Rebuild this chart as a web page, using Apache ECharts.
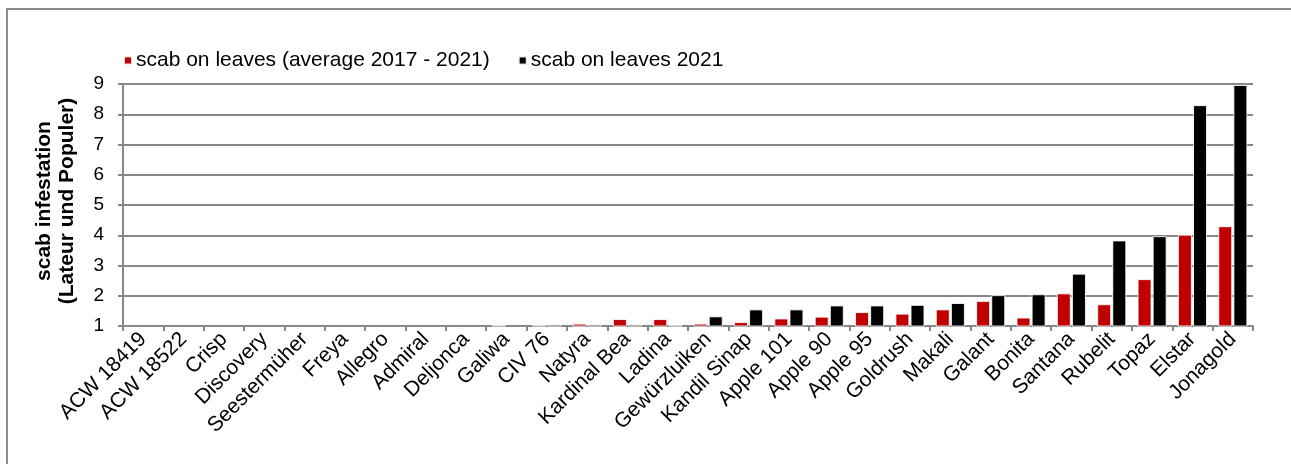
<!DOCTYPE html>
<html>
<head>
<meta charset="utf-8">
<script src="https://cdn.jsdelivr.net/npm/echarts@6/dist/echarts.min.js"></script>
<style>
  html, body { margin: 0; padding: 0; background: #fff; }
  #chart { width: 1291px; height: 464px; }
</style>
</head>
<body>
<div id="chart"></div>
<script>
// Apple varieties, sorted by scab infestation in 2021
const varieties = [
  'ACW 18419', 'ACW 18522', 'Crisp', 'Discovery', 'Seestermüher', 'Freya', 'Allegro',
  'Admiral', 'Deljonca', 'Galiwa', 'CIV 76', 'Natyra', 'Kardinal Bea', 'Ladina',
  'Gewürzluiken', 'Kandil Sinap', 'Apple 101', 'Apple 90', 'Apple 95', 'Goldrush',
  'Makali', 'Galant', 'Bonita', 'Santana', 'Rubelit', 'Topaz', 'Elstar', 'Jonagold'
];

// Scab on leaves, Lateur und Populer scale (1 = none)
const scabAverage = [
  1, 1, 1, 1, 1, 1, 1,
  1, 1, 1.04, 1.04, 1.08, 1.23, 1.23,
  1.08, 1.13, 1.25, 1.31, 1.46, 1.41,
  1.55, 1.83, 1.28, 2.08, 1.72, 2.55, 4.02, 4.3
];
const scab2021 = [
  1, 1, 1, 1, 1, 1, 1,
  1, 1, 1, 1.05, 1.05, 1.05, 1.04,
  1.32, 1.55, 1.55, 1.68, 1.68, 1.7,
  1.76, 2.02, 2.05, 2.73, 3.83, 3.97, 8.3, 8.97
];

const seriesNames = ['scab on leaves (average 2017 - 2021)', 'scab on leaves 2021'];
const yTicks = { min: 1, max: 9, step: 1 };

const font = 'Liberation Sans, Arial, sans-serif';
const gridGray = '#878787';

const chart = echarts.init(document.getElementById('chart'), null, { renderer: 'canvas' });

chart.setOption({
  animation: false,
  backgroundColor: '#ffffff',
  graphic: [{
    type: 'polyline',
    shape: { points: [[7, 470], [7, 9], [1300, 9]] },
    style: { stroke: '#8c8c8c', lineWidth: 2, fill: null },
    silent: true
  }],
  legend: {
    top: 45,
    left: 118,
    itemWidth: 8,
    itemHeight: 8,
    itemGap: 28,
    icon: 'rect',
    textStyle: { fontFamily: font, fontSize: 21, color: '#000', padding: [0, 0, 0, -1] },
    data: seriesNames
  },
  grid: { left: 123, right: 38, top: 84, bottom: 138, containLabel: false },
  xAxis: {
    type: 'category',
    data: varieties,
    axisLine: { lineStyle: { color: gridGray, width: 2 } },
    axisTick: { show: true, length: 5, lineStyle: { color: gridGray, width: 2 } },
    axisLabel: {
      rotate: 45,
      interval: 0,
      margin: 10,
      fontFamily: font,
      fontSize: 21,
      color: '#000'
    }
  },
  yAxis: {
    type: 'value',
    min: yTicks.min,
    max: yTicks.max,
    interval: yTicks.step,
    name: 'scab infestation\n(Lateur und Populer)',
    nameLocation: 'middle',
    nameGap: 44,
    nameTextStyle: {
      fontFamily: font,
      fontSize: 21,
      fontWeight: 'bold',
      color: '#000',
      lineHeight: 23,
      padding: [0, 0, 0, 8]
    },
    axisLine: { show: true, lineStyle: { color: gridGray, width: 2 } },
    axisTick: { show: true, length: 5, lineStyle: { color: gridGray, width: 2 } },
    axisLabel: { margin: 19, fontFamily: font, fontSize: 19, color: '#000' },
    splitLine: { show: true, lineStyle: { color: gridGray, width: 2 } }
  },
  series: [
    {
      name: seriesNames[0],
      type: 'bar',
      data: scabAverage,
      barWidth: 14,
      barGap: '8%',
      itemStyle: { color: '#c00000', borderColor: 'rgba(255,255,255,0.85)', borderWidth: 1 }
    },
    {
      name: seriesNames[1],
      type: 'bar',
      data: scab2021,
      barWidth: 14,
      barGap: '8%',
      itemStyle: { color: '#000000', borderColor: 'rgba(255,255,255,0.85)', borderWidth: 1 }
    }
  ]
});
</script>
</body>
</html>
